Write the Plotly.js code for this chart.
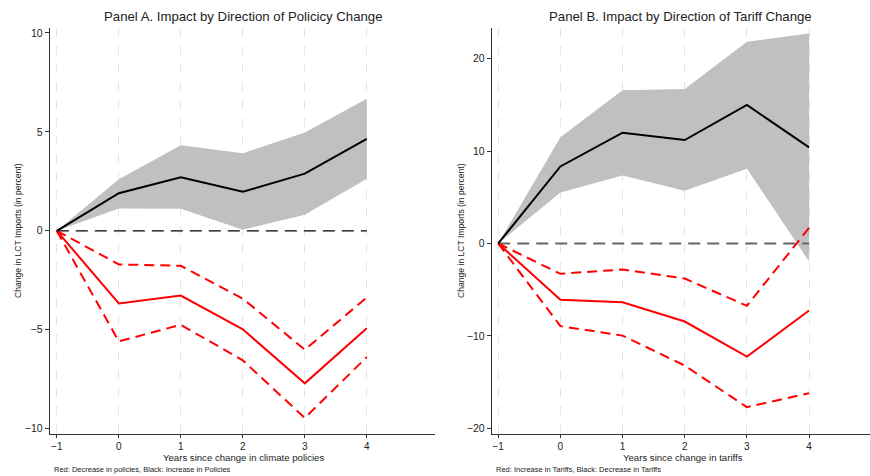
<!DOCTYPE html>
<html>
<head>
<meta charset="utf-8">
<script src="https://cdn.plot.ly/plotly-3.0.1.min.js"></script>
<style>html,body{margin:0;padding:0;background:#fff;}#chart{width:870px;height:476px;}</style>
</head>
<body>
<div id="chart"></div>
<script>
// Event-time axis
const years = [-1, 0, 1, 2, 3, 4];
const xTickVals = [-1, 0, 1, 2, 3, 4];

// Panel A: climate policies
const aIncCoef = [0, 1.90, 2.71, 1.97, 2.89, 4.65];   // black: increase in policies
const aIncHi   = [0, 2.61, 4.33, 3.92, 4.97, 6.67];
const aIncLo   = [0, 1.13, 1.11, 0.05, 0.81, 2.63];
const aDecCoef = [0, -3.67, -3.27, -4.98, -7.71, -4.92]; // red: decrease in policies
const aDecHi   = [0, -1.70, -1.77, -3.43, -6.01, -3.37];
const aDecLo   = [0, -5.59, -4.75, -6.55, -9.46, -6.38];
const aYTicks  = [-10, -5, 0, 5, 10];

// Panel B: tariffs
const bDecCoef = [0, 8.33, 11.98, 11.19, 14.98, 10.39];  // black: decrease in tariffs
const bDecHi   = [0, 11.50, 16.56, 16.70, 21.80, 22.70];
const bDecLo   = [0, 5.52, 7.36, 5.70, 8.08, -1.95];
const bIncCoef = [0, -6.09, -6.35, -8.44, -12.23, -7.25]; // red: increase in tariffs
const bIncHi   = [0, -3.28, -2.81, -3.79, -6.74, 1.70];
const bIncLo   = [0, -8.94, -9.96, -13.20, -17.70, -16.19];
const bYTicks  = [-20, -10, 0, 10, 20];

const zeroX = [-1, 4];
const zeroY = [0, 0];

const RED = '#ff0000';
const BAND = '#c0c0c0';
const DASH = '10px,6px';

function panel(xa, ya, blk, blkHi, blkLo, red, redHi, redLo, zeroColor, zeroWidth) {
  return [
    {x: years, y: blkLo, xaxis: xa, yaxis: ya, mode: 'lines', line: {width: 0, color: BAND}, hoverinfo: 'skip', showlegend: false},
    {x: years, y: blkHi, xaxis: xa, yaxis: ya, mode: 'lines', fill: 'tonexty', fillcolor: BAND, line: {width: 0, color: BAND}, hoverinfo: 'skip', showlegend: false},
    {x: zeroX, y: zeroY, xaxis: xa, yaxis: ya, mode: 'lines', line: {color: zeroColor, width: zeroWidth, dash: '12px,7px'}, showlegend: false},
    {x: years, y: redHi, xaxis: xa, yaxis: ya, mode: 'lines', line: {color: RED, width: 2, dash: DASH}, showlegend: false},
    {x: years, y: redLo, xaxis: xa, yaxis: ya, mode: 'lines', line: {color: RED, width: 2, dash: DASH}, showlegend: false},
    {x: years, y: red, xaxis: xa, yaxis: ya, mode: 'lines', line: {color: RED, width: 2}, showlegend: false},
    {x: years, y: blk, xaxis: xa, yaxis: ya, mode: 'lines', line: {color: '#000', width: 2}, showlegend: false}
  ];
}

const data = [].concat(
  panel('x', 'y', aIncCoef, aIncHi, aIncLo, aDecCoef, aDecHi, aDecLo, '#000', 1.3),
  panel('x2', 'y2', bDecCoef, bDecHi, bDecLo, bIncCoef, bIncHi, bIncLo, '#666', 2)
);

const FONT = 'Liberation Sans, Arial, sans-serif';
const yDom = [1 - 434/476, 1 - 28/476];

function xAxis(domain, range, anchor) {
  return {
    domain: domain, range: range, anchor: anchor,
    tickvals: xTickVals, ticks: 'outside', ticklen: 3, tickcolor: '#333',
    showline: true, linecolor: '#333', linewidth: 1.3,
    showgrid: true, gridcolor: '#e6e6e6', griddash: 'dash', gridwidth: 1,
    zeroline: false, tickfont: {family: FONT, size: 10, color: '#222'}, fixedrange: true
  };
}
function yAxis(range, ticks, anchor) {
  return {
    domain: yDom, range: range, anchor: anchor,
    tickvals: ticks, ticks: 'outside', ticklen: 4, tickcolor: '#333',
    showline: true, linecolor: '#333', linewidth: 1.3,
    showgrid: false, zeroline: false,
    tickfont: {family: FONT, size: 10.5, color: '#222'}, fixedrange: true
  };
}

const ann = (x, y, text, size, opts) => Object.assign({
  xref: 'paper', yref: 'paper', x: x / 870, y: 1 - y / 476, text: text, showarrow: false,
  font: {family: FONT, size: size, color: '#222'}, xanchor: 'center', yanchor: 'middle'
}, opts || {});

const layout = {
  width: 870, height: 476,
  margin: {l: 0, r: 0, t: 0, b: 0},
  paper_bgcolor: '#fff', plot_bgcolor: '#fff',
  showlegend: false,
  xaxis: xAxis([50/870, 435/870], [-1.11, 5.1], 'y'),
  yaxis: yAxis([-10.27, 10.25], aYTicks, 'x'),
  xaxis2: xAxis([492/870, 1], [-1.1, 4.98], 'y2'),
  yaxis2: yAxis([-20.6, 23.3], bYTicks, 'x2'),
  annotations: [
    ann(243, 17, 'Panel A. Impact by Direction of Policicy Change', 13.2),
    ann(680, 17, 'Panel B. Impact by Direction of Tariff Change', 13.2),
    ann(243, 457.5, 'Years since change in climate policies', 9.6),
    ann(683, 457.5, 'Years since change in tariffs', 9.6),
    ann(18, 231, 'Change in LCT Imports (in percent)', 8.6, {textangle: -90}),
    ann(461, 231, 'Change in LCT Imports (in percent)', 8.6, {textangle: -90}),
    ann(52, 469.5, 'Red: Decrease in policies, Black: Increase in Policies', 7.5, {xanchor: 'left'}),
    ann(494, 469.5, 'Red: Increase in Tariffs, Black: Decrease in Tariffs', 7.5, {xanchor: 'left'})
  ]
};

Plotly.newPlot('chart', data, layout, {staticPlot: true, displayModeBar: false});
</script>
</body>
</html>
